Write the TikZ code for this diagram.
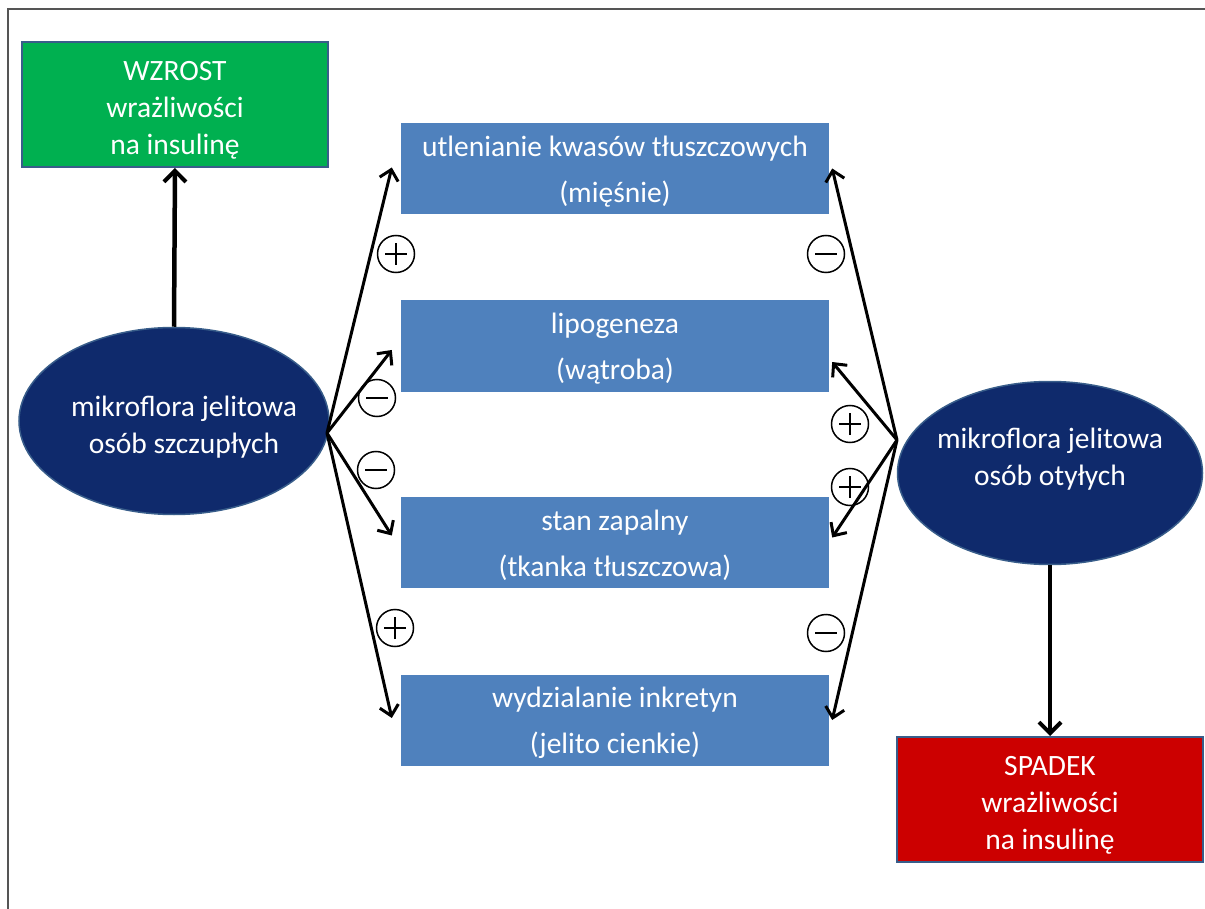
\documentclass[tikz,border=0pt]{standalone}
\usepackage{fontspec}
\setmainfont{Carlito}
\usetikzlibrary{arrows.meta,shapes.geometric}
\definecolor{gfill}{HTML}{00B050}
\definecolor{bfill}{HTML}{4F81BD}
\definecolor{nfill}{HTML}{0F2A6C}
\definecolor{rfill}{HTML}{CC0000}
\definecolor{edge}{HTML}{385D8A}
\definecolor{frame}{HTML}{555555}
\tikzset{
  txt/.style={font=\fontsize{29.5}{37}\selectfont, text=white, align=center},
  ptxt/.style={font=\fontsize{29.5}{46}\selectfont, text=white, align=center},
  resbox/.style={draw=edge, line width=2pt, minimum width=306pt, minimum height=125pt, inner sep=0pt},
  procbox/.style={fill=bfill, minimum width=428pt, minimum height=91pt, inner sep=0pt},
  oval/.style={ellipse, fill=nfill, draw=edge, line width=1.5pt, inner sep=0pt},
  thin/.style={line width=3pt, -{Straight Barb[length=10pt,width=19pt,line width=3pt]}},
  thick/.style={line width=4.5pt, -{Straight Barb[length=11pt,width=22pt,line width=4pt]}},
  sign/.style={circle, draw, line width=1.5pt, minimum size=37pt, inner sep=0pt},
  minus/.style={sign, path picture={\draw[line width=1.4pt] ([xshift=-11pt]path picture bounding box.center) -- ([xshift=11pt]path picture bounding box.center);}},
  plus/.style={sign, path picture={\draw[line width=1.4pt] ([xshift=-11pt]path picture bounding box.center) -- ([xshift=11pt]path picture bounding box.center) ([yshift=-11pt]path picture bounding box.center) -- ([yshift=11pt]path picture bounding box.center);}}
}
\begin{document}
\begin{tikzpicture}[x=1pt,y=-1pt]
\useasboundingbox (0,0) rectangle (1205,909);
\draw[frame, line width=2pt] (8,909) -- (8,9) -- (1205,9);

% result boxes
\node[resbox, fill=gfill] (up) at (175,104.5) {};
\node[txt] (uptxt) at (175,110.5) {WZROST\\wrażliwości\\na insulinę};
\node[resbox, fill=rfill] (down) at (1050,799.5) {};
\node[txt] (downtxt) at (1050,805) {SPADEK\\wrażliwości\\na insulinę};

% process boxes
\node[procbox] (b1) at (615,168.5) {};
\node[ptxt] (t1) at (615,171.5) {utlenianie kwasów tłuszczowych\\(mięśnie)};
\node[procbox] (b2) at (615,346) {};
\node[ptxt] (t2) at (615,349) {lipogeneza\\(wątroba)};
\node[procbox] (b3) at (615,542.5) {};
\node[ptxt] (t3) at (615,545.5) {stan zapalny\\(tkanka tłuszczowa)};
\node[procbox] (b4) at (615,720) {};
\node[ptxt] (t4) at (615,723) {wydzialanie inkretyn\\(jelito cienkie)};

% ellipses
\node[oval, minimum width=310pt, minimum height=187pt] (lean) at (174,421) {};
\node[txt] (leantxt) at (184,427) {mikroflora jelitowa\\osób szczupłych};
\node[oval, minimum width=305pt, minimum height=183pt] (obese) at (1050,473) {};
\node[txt] (obesetxt) at (1050,459) {mikroflora jelitowa\\osób otyłych};

% hubs
\coordinate (hubL) at (327,433);
\coordinate (hubR) at (897,440);

% vertical arrows
\draw[thick] (lean.north) -- (up.south);
\draw[thick] (obese.south) -- (down.north);

% left fan
\draw[thin] (hubL) -- ([xshift=-9pt,yshift=1pt]b1.west);
\draw[thin] (hubL) -- ([xshift=-9pt,yshift=-4pt]b2.west);
\draw[thin] (hubL) -- ([xshift=-9pt,yshift=7pt]b3.west);
\draw[thin] (hubL) -- ([xshift=-9pt,yshift=2pt]b4.west);

% right fan
\draw[thin] (hubR) -- ([xshift=3pt]b1.east);
\draw[thin] (hubR) -- ([xshift=3pt,yshift=-16pt]b2.east);
\draw[thin] (hubR) -- ([xshift=3pt,yshift=5pt]b3.east);
\draw[thin] (hubR) -- ([xshift=3pt]b4.east);

% signs
\node[plus] (sL1) at (396,254) {};
\node[minus] (sL2) at (377,398) {};
\node[minus] (sL3) at (376,470) {};
\node[plus] (sL4) at (395,628) {};
\node[minus] (sR1) at (826,254) {};
\node[plus] (sR2) at (850,424) {};
\node[plus] (sR3) at (850,487) {};
\node[minus] (sR4) at (826,633) {};
\end{tikzpicture}
\end{document}
